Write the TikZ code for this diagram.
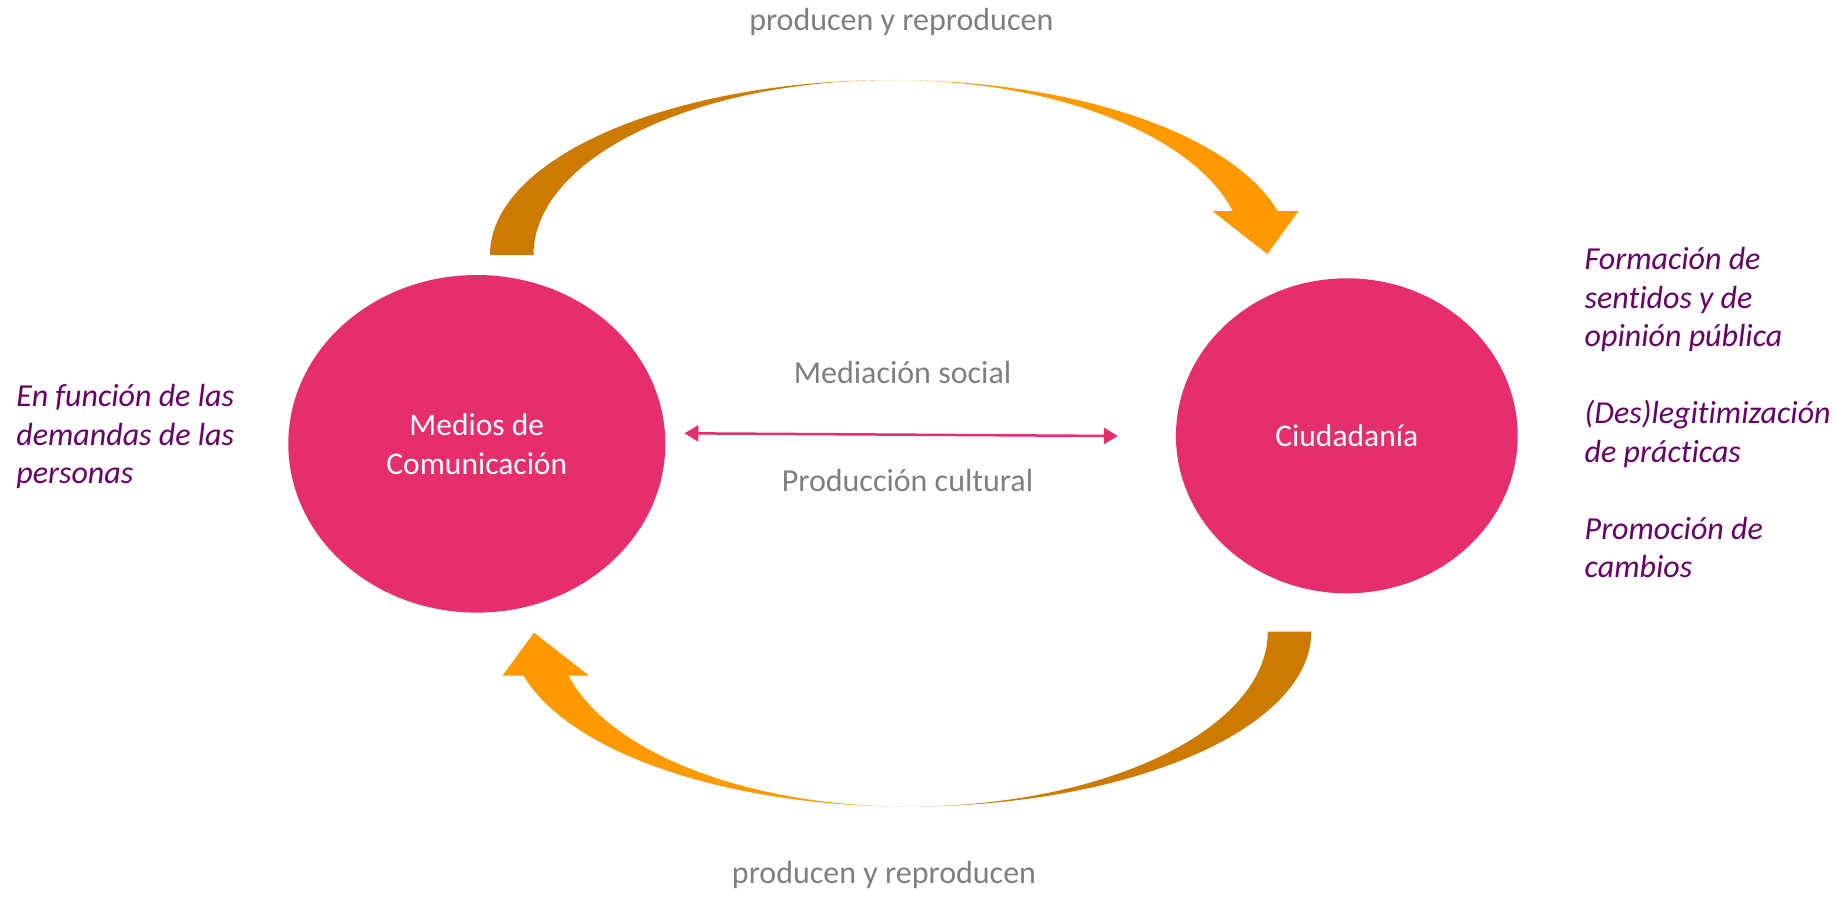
\documentclass[tikz,border=0pt]{standalone}
\usepackage{fontspec}
\setmainfont{Carlito}[Ligatures=NoCommon]
\usetikzlibrary{shapes.geometric,arrows.meta}
\definecolor{pinkc}{HTML}{E62E6B}
\definecolor{darkor}{HTML}{CC7A00}
\definecolor{lightor}{HTML}{FF9900}
\definecolor{grayt}{HTML}{7F7F7F}
\definecolor{purp}{HTML}{660066}
\newcommand{\mybentarrow}{%
  \fill[backpart] (490,255) arc[start angle=180,end angle=270,x radius=403,y radius=175]
    arc[start angle=270,end angle=180,x radius=359.5,y radius=175] -- cycle;
  \fill[frontpart] (893,80) arc[start angle=270,end angle=345.44,x radius=397.5,y radius=175]
    -- (1298.7,211) -- (1267.3,254) -- (1212.3,211) -- (1232.7,211)
    arc[start angle=345.44,end angle=270,x radius=351,y radius=175] -- cycle;
}
\begin{document}
\begin{tikzpicture}[x=0.5pt,y=-0.5pt,
  bubble/.style={ellipse,fill=pinkc,inner sep=0pt,text=white,align=center,
    font=\fontsize{15.75}{19.5}\selectfont},
  graylabel/.style={text=grayt,font=\fontsize{16}{19.2}\selectfont,inner sep=0pt,anchor=base},
  note/.style={text=purp,font=\fontsize{16}{19.25}\selectfont\itshape,inner sep=0pt,
    align=left,anchor=base west},
  backpart/.style={fill=darkor},
  frontpart/.style={fill=lightor},
  link/.style={draw=pinkc,line width=1.25pt,
    {Triangle[length=7pt,width=8pt]}-{Triangle[length=7pt,width=8pt]}}
]
\useasboundingbox (0,0) rectangle (1836,900);

% curved arrows
\begin{scope}
  \mybentarrow
\end{scope}
\begin{scope}[rotate around={180:(900.65,443.3)}]
  \mybentarrow
\end{scope}

% ellipses
\node[bubble,minimum width=377pt*0.5,minimum height=337.6pt*0.5] (medios) at (476.8,443.8)
  {Medios de\\Comunicación};
\node[bubble,minimum width=341.7pt*0.5,minimum height=315pt*0.5] (ciud) at (1346.8,435.8)
  {Ciudadanía};

% double arrow
\draw[link] ([shift={(18.7,-10.5)}]medios.east) -- ([shift={(-57.7,0.2)}]ciud.west);

% gray labels
\node[graylabel] (toplbl) at (901.3,30.7) {producen y reproducen};
\node[graylabel] (botlbl) at (884,883.3) {producen y reproducen};
\node[graylabel] (medlbl) at (902.5,383.3) {Mediación social};
\node[graylabel] (prodlbl) at (907.5,491.7) {Producción cultural};

% notes (anchor at baseline of last line)
\node[note] (leftnote) at (16,483.7) {En función de las\\demandas de las\\personas};
\node[note] (rightnote) at (1584.3,577.5) {Formación de\\sentidos y de\\opinión pública\\[19.25pt]
  (Des)legitimización\\de prácticas\\[19.25pt]Promoción de\\cambios};
\end{tikzpicture}
\end{document}
